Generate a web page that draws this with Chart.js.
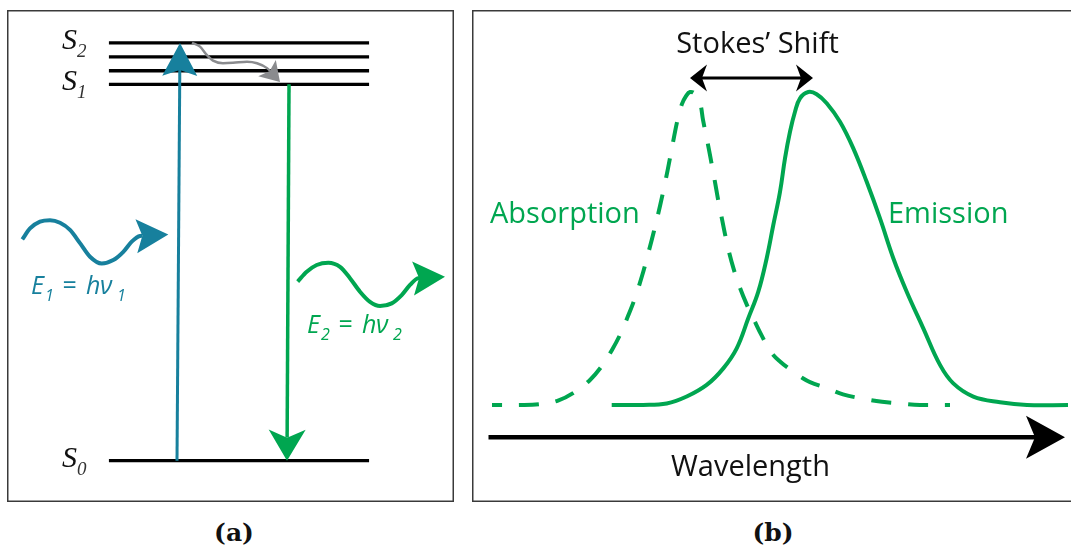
<!DOCTYPE html>
<html>
<head>
<meta charset="utf-8">
<script src="https://cdn.jsdelivr.net/npm/chart.js@4.4.1/dist/chart.umd.min.js"></script>
<style>
  html, body { margin: 0; padding: 0; background: #fff; }
  #page { position: relative; width: 1071px; height: 548px; overflow: hidden; background: #fff; }
  #panelA { position: absolute; left: 7px; top: 10px; }
  #panelB { position: absolute; left: 472px; top: 10px; }
  .cap { position: absolute; top: 518px; width: 80px; margin-left: -40px; text-align: center;
         font: bold 25px "DejaVu Serif"; line-height: 30px; color: #111; }
</style>
</head>
<body>
<div id="page">
  <canvas id="panelA" width="447" height="492"></canvas>
  <canvas id="panelB" width="600" height="492"></canvas>
  <div class="cap" style="left:234px">(a)</div>
  <div class="cap" style="left:773px">(b)</div>
</div>
<script>
// ---------- (a) Jablonski diagram: energies in units of the S0 -> S1 gap ----------
const levelEnergies = [0, 1.0, 1.036, 1.073, 1.11];
const levelSubscripts = ['0', '1', '', '', '2'];
const levelSpan = [22.8, 81.0];

const excitationX = [38.03, 38.70];
const excitationE = [0, 1.11];
const emissionX = [63.09, 62.64];
const emissionE = [1.0, 0];

// vibrational relaxation (wavy, S2 -> S1)
const relaxX = [41.39, 43.18, 44.68, 46.09, 48.32, 50.56, 53.69, 55.93, 58.17, 61.07];
const relaxE = [1.110, 1.100, 1.078, 1.063, 1.056, 1.057, 1.060, 1.056, 1.043, 1.006];

// incoming photon hv1
const photonInX = [3.42, 5.15, 7.38, 9.62, 11.86, 14.09, 16.33, 18.57, 21.19, 23.78, 26.02, 27.90, 29.75, 36.09];
const photonInE = [0.588, 0.617, 0.635, 0.639, 0.632, 0.613, 0.578, 0.542, 0.524, 0.533, 0.555, 0.582, 0.597, 0.601];

// emitted photon hv2
const photonOutX = [65.03, 67.05, 69.28, 71.88, 74.50, 76.73, 78.97, 81.21, 83.45, 86.06, 88.30, 90.16, 92.01, 97.99];
const photonOutE = [0.476, 0.502, 0.520, 0.526, 0.515, 0.485, 0.449, 0.422, 0.411, 0.418, 0.440, 0.467, 0.485, 0.489];

// ---------- (b) spectra: wavelength (nm) vs normalised intensity ----------
const absWl = [390, 404, 414, 423, 431.5, 439, 445, 450, 454, 458, 461.5, 465, 468, 471, 474, 476.5, 479, 481, 483,
               485, 487, 489, 491.5, 494, 495.5, 497, 498.5, 500, 501.5, 503, 504.5, 506.5, 508.5, 511, 514, 517.5,
               521, 525, 529.5, 534, 540, 544.5, 549, 557.5, 565.5, 575.5, 585, 595, 604, 619];
const absVal = [0, 0, 0.003, 0.014, 0.042, 0.080, 0.125, 0.176, 0.224, 0.284, 0.342, 0.412, 0.482, 0.556, 0.636,
                0.709, 0.789, 0.856, 0.917, 0.962, 0.987, 1.0, 0.994, 0.965, 0.911, 0.863, 0.815, 0.764, 0.712, 0.658,
                0.610, 0.546, 0.489, 0.431, 0.374, 0.319, 0.272, 0.220, 0.169, 0.139, 0.109, 0.089, 0.073, 0.054,
                0.034, 0.020, 0.010, 0.004, 0, 0];

const emWl = [449.85, 465.5, 477.35, 487.35, 497.35, 505.65, 512.35, 518.15, 523.15, 527.35, 530.65, 534, 536.5, 539,
              541.5, 544, 548.15, 552.35, 557.35, 564, 570.65, 577.35, 584, 590.65, 597.35, 605.65, 614, 620.65,
              630.65, 644, 657.5, 678];
const emVal = [0, 0, 0.005, 0.027, 0.064, 0.117, 0.181, 0.277, 0.362, 0.469, 0.575, 0.681, 0.788, 0.873,
               0.937, 0.980, 1.0, 0.993, 0.964, 0.905, 0.820, 0.713, 0.596, 0.469, 0.362, 0.245, 0.128, 0.069,
               0.027, 0.009, 0, 0];

const stokesWl = [489, 550.5];
const stokesLevel = 1.045;
const axisWl = [388.25, 676.5];
const axisLevel = -0.103;

const BLUE = '#17809d';
const GREEN = '#00a650';
const GRAY = '#8a8b8e';

const zip = (xs, ys) => xs.map((x, i) => ({ x, y: ys[i] }));

// ---------- arrowheads drawn at the ends of flagged datasets ----------
function arrowEnds(ds) { return ds.arrowHead.both ? [true, false] : [false]; }
function arrowGeom(meta, atStart) {
  const pts = meta.data, n = pts.length;
  const tip = atStart ? pts[0] : pts[n - 1];
  const prev = atStart ? pts[1] : pts[n - 2];
  let dx = tip.x - prev.x, dy = tip.y - prev.y;
  const L = Math.hypot(dx, dy) || 1;
  return { tx: tip.x, ty: tip.y, dx: dx / L, dy: dy / L };
}
const arrowHeads = {
  id: 'arrowHeads',
  beforeDatasetDraw(chart, args) {
    const ds = chart.data.datasets[args.index];
    if (!ds.arrowHead) return;
    const ctx = chart.ctx, h = ds.arrowHead;
    ctx.save();
    ctx.beginPath();
    ctx.rect(0, 0, chart.width, chart.height);
    arrowEnds(ds).forEach(atStart => {
      const g = arrowGeom(args.meta, atStart);
      const back = h.length - h.notch;
      const bx = g.tx - g.dx * back, by = g.ty - g.dy * back;
      const px = -g.dy, py = g.dx, w = h.width / 2 + 6, f = back + 12;
      ctx.moveTo(bx + px * w, by + py * w);
      ctx.lineTo(bx + px * w + g.dx * f, by + py * w + g.dy * f);
      ctx.lineTo(bx - px * w + g.dx * f, by - py * w + g.dy * f);
      ctx.lineTo(bx - px * w, by - py * w);
      ctx.closePath();
    });
    ctx.clip('evenodd');
  },
  afterDatasetDraw(chart, args) {
    const ds = chart.data.datasets[args.index];
    if (ds.arrowHead) chart.ctx.restore();
  },
  afterDatasetsDraw(chart) {
    const ctx = chart.ctx;
    chart.data.datasets.forEach((ds, i) => {
      if (!ds.arrowHead) return;
      const h = ds.arrowHead, meta = chart.getDatasetMeta(i);
      arrowEnds(ds).forEach(atStart => {
        const g = arrowGeom(meta, atStart);
        const px = -g.dy, py = g.dx, hw = h.width / 2;
        const bx = g.tx - g.dx * h.length, by = g.ty - g.dy * h.length;
        const nx = g.tx - g.dx * (h.length - h.notch), ny = g.ty - g.dy * (h.length - h.notch);
        ctx.save();
        ctx.fillStyle = ds.borderColor;
        ctx.beginPath();
        ctx.moveTo(g.tx, g.ty);
        ctx.lineTo(bx + px * hw, by + py * hw);
        ctx.lineTo(nx, ny);
        ctx.lineTo(bx - px * hw, by - py * hw);
        ctx.closePath();
        ctx.fill();
        ctx.restore();
      });
    });
  }
};

// panel border
const frame = {
  id: 'frame',
  afterDraw(chart, args, opts) {
    const ctx = chart.ctx;
    ctx.save();
    ctx.strokeStyle = '#3a3a3a';
    ctx.lineWidth = 1.5;
    ctx.strokeRect(0.75, 0.75, chart.width - 1.5 + (opts.openRight ? 20 : 0), chart.height - 1.5);
    ctx.restore();
  }
};

function line(data, color, width, extra) {
  return Object.assign({
    data, borderColor: color, borderWidth: width, showLine: true, pointRadius: 0,
    pointHoverRadius: 0, fill: false, cubicInterpolationMode: 'monotone', borderCapStyle: 'butt'
  }, extra || {});
}
const smooth = { cubicInterpolationMode: 'default', tension: 0.4 };

const baseOptions = (xmin, xmax, ymin, ymax, extraPlugins) => ({
  responsive: false,
  animation: false,
  devicePixelRatio: 1,
  events: [],
  layout: { padding: 0 },
  scales: {
    x: { type: 'linear', display: false, min: xmin, max: xmax },
    y: { type: 'linear', display: false, min: ymin, max: ymax }
  },
  plugins: Object.assign({ legend: { display: false }, tooltip: { enabled: false } }, extraPlugins)
});

// ---------- text for panel (a) ----------
function drawEnergy(ctx, x, y, color, n) {
  ctx.fillStyle = color;
  const big = 'italic 25px "Open Sans"', small = 'italic 16px "Open Sans"';
  ctx.font = big;   ctx.fillText('E', x, y);
  ctx.font = small; ctx.fillText(n, x + 14, y + 7);
  ctx.font = big;   ctx.fillText('=', x + 31, y);
  ctx.fillText('h', x + 55, y);
  ctx.fillText('\u03BD', x + 69, y);
  ctx.font = small; ctx.fillText(n, x + 86, y + 7);
}
const jablonskiText = {
  id: 'jablonskiText',
  afterDraw(chart) {
    const { ctx, scales: { x, y } } = chart;
    ctx.save();
    ctx.textBaseline = 'alphabetic';
    ctx.textAlign = 'left';
    levelEnergies.forEach((e, i) => {
      const sub = levelSubscripts[i];
      if (!sub) return;
      const px = x.getPixelForValue(12.3), py = y.getPixelForValue(e) + 6;
      ctx.fillStyle = '#111';
      ctx.font = 'italic 30px "Liberation Serif"';
      ctx.fillText('S', px, py);
      ctx.font = 'italic 19px "Liberation Serif"';
      ctx.fillStyle = '#333';
      ctx.fillText(sub, px + 15, py + 8);
    });
    drawEnergy(ctx, x.getPixelForValue(5.37), y.getPixelForValue(0.443), BLUE, '1');
    drawEnergy(ctx, x.getPixelForValue(67.11), y.getPixelForValue(0.339), GREEN, '2');
    ctx.restore();
  }
};

// ---------- text for panel (b) ----------
const spectrumText = {
  id: 'spectrumText',
  afterDraw(chart) {
    const { ctx, scales: { x, y } } = chart;
    ctx.save();
    ctx.textBaseline = 'alphabetic';
    ctx.font = '29px "Open Sans"';
    ctx.fillStyle = '#111';
    ctx.textAlign = 'center';
    ctx.fillText('Stokes\u2019 Shift', x.getPixelForValue(522.75), y.getPixelForValue(1.125));
    ctx.fillText('Wavelength', x.getPixelForValue(519.25), y.getPixelForValue(-0.227));
    ctx.textAlign = 'left';
    ctx.fillStyle = GREEN;
    ctx.fillText('Absorption', x.getPixelForValue(389), y.getPixelForValue(0.581));
    ctx.fillText('Emission', x.getPixelForValue(588), y.getPixelForValue(0.581));
    ctx.restore();
  }
};

// ---------- chart (a) ----------
const datasetsA = levelEnergies.map(e =>
  line(levelSpan.map(v => ({ x: v, y: e })), '#000', 3.3, { order: 5 }));
datasetsA.push(
  line(zip(excitationX, excitationE), BLUE, 3, { order: 1, arrowHead: { length: 33, width: 35, notch: 6 } }),
  line(zip(emissionX, emissionE), GREEN, 3.5, { order: 1, arrowHead: { length: 31, width: 37, notch: 8 } }),
  line(zip(relaxX, relaxE), GRAY, 2.5, { order: 1, arrowHead: { length: 19, width: 24, notch: 4 } }),
  line(zip(photonInX, photonInE), BLUE, 4, { order: 1, arrowHead: { length: 32, width: 34, notch: 6 } }),
  line(zip(photonOutX, photonOutE), GREEN, 4, { order: 1, arrowHead: { length: 32, width: 34, notch: 6 } })
);

new Chart(document.getElementById('panelA'), {
  type: 'scatter',
  data: { datasets: datasetsA },
  options: baseOptions(0, 100, -0.1097, 1.1974, { frame: { openRight: false } }),
  plugins: [arrowHeads, frame, jablonskiText]
});

// ---------- chart (b) ----------
new Chart(document.getElementById('panelB'), {
  type: 'scatter',
  data: {
    datasets: [
      line(zip(absWl, absVal), GREEN, 4, Object.assign({ borderDash: [20, 17], borderDashOffset: 10 }, smooth)),
      line(zip(emWl, emVal), GREEN, 4, smooth),
      line(stokesWl.map(w => ({ x: w, y: stokesLevel })), '#000', 3,
           { arrowHead: { length: 17, width: 27, notch: 5, both: true } }),
      line(axisWl.map(w => ({ x: w, y: axisLevel })), '#000', 4.5,
           { arrowHead: { length: 39, width: 43, notch: 9 } })
    ]
  },
  options: baseOptions(380, 680, -0.31, 1.262, { frame: { openRight: true } }),
  plugins: [arrowHeads, frame, spectrumText]
});
</script>
</body>
</html>
